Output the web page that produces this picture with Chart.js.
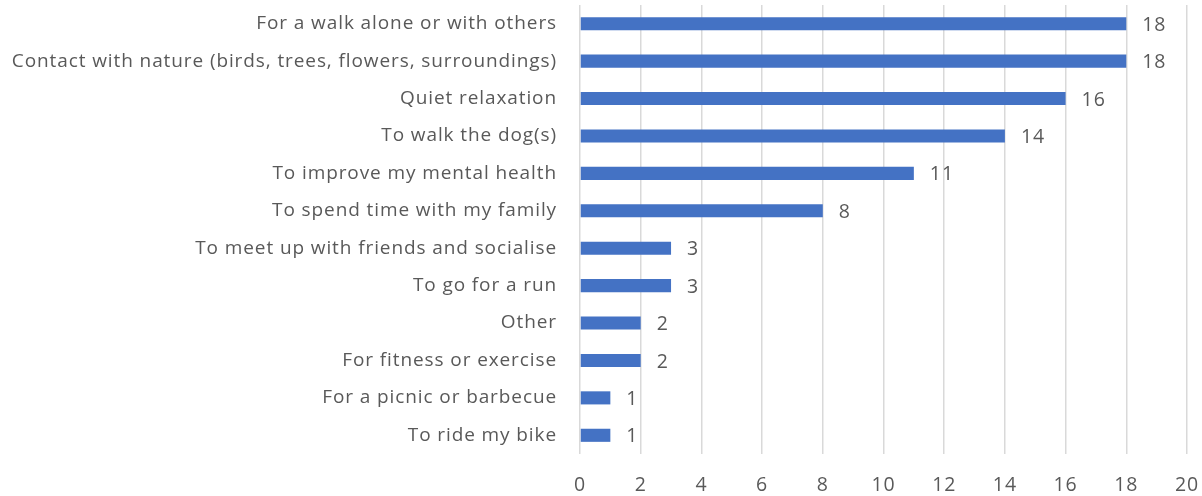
<!DOCTYPE html>
<html lang="en">
<head>
<meta charset="UTF-8">
<title>Reasons for visiting</title>
<script src="https://cdn.jsdelivr.net/npm/chart.js"></script>
<style>
  html, body { margin: 0; padding: 0; background: #fff; overflow: hidden; }
  #wrap { width: 1202px; height: 496px; }
</style>
</head>
<body>
<div id="wrap"><canvas id="grafico"></canvas></div>
<script>
// categories, top to bottom
const categorias = [
    'For a walk alone or with others',
    'Contact with nature (birds, trees, flowers, surroundings)',
    'Quiet relaxation',
    'To walk the dog(s)',
    'To improve my mental health',
    'To spend time with my family',
    'To meet up with friends and socialise',
    'To go for a run',
    'Other',
    'For fitness or exercise',
    'For a picnic or barbecue',
    'To ride my bike'
];
const valores = [18, 18, 16, 14, 11, 8, 3, 3, 2, 2, 1, 1];
const eixoMin = 0;
const eixoMax = 20;
const passo = 2;

const fonte = '"Open Sans", Lato, sans-serif';
const corTexto = '#595959';

// a bit of letter spacing so the text spreads like the original
const espacamento = {
    id: 'espacamento',
    beforeDraw(chart) { chart.ctx.letterSpacing = '0.9px'; },
    afterDraw(chart) { chart.ctx.letterSpacing = '0px'; }
};

// writes the value at the end of every bar
const rotulos = {
    id: 'rotulos',
    afterDatasetsDraw(chart) {
        const ctx = chart.ctx;
        const meta = chart.getDatasetMeta(0);
        ctx.save();
        ctx.font = '19.5px ' + fonte;
        ctx.fillStyle = corTexto;
        ctx.textAlign = 'left';
        ctx.textBaseline = 'middle';
        meta.data.forEach(function (barra, i) {
            ctx.fillText(String(valores[i]), barra.x + 16, barra.y + 1.5);
        });
        ctx.restore();
    }
};

new Chart(document.getElementById('grafico'), {
    type: 'bar',
    data: {
        labels: categorias,
        datasets: [{
            data: valores,
            backgroundColor: '#4472C4',
            barPercentage: 0.7,
            categoryPercentage: 0.5
        }]
    },
    options: {
        indexAxis: 'y',
        responsive: true,
        maintainAspectRatio: false,
        animation: false,
        layout: { padding: { top: 5, right: 15, left: 0, bottom: 0 } },
        plugins: { legend: { display: false }, tooltip: { enabled: false } },
        scales: {
            x: {
                min: eixoMin,
                max: eixoMax,
                ticks: {
                    stepSize: passo,
                    color: corTexto,
                    font: { family: fonte, size: 19.5 },
                    padding: 20
                },
                grid: { color: '#d9d9d9', lineWidth: 1.5, drawTicks: false },
                border: { display: false },
                afterFit(scale) {
                    scale.height = 42;
                    scale.paddingLeft = 0;
                    scale.paddingRight = 0;
                }
            },
            y: {
                ticks: {
                    color: corTexto,
                    font: { family: fonte, size: 19 },
                    padding: 23
                },
                grid: { display: false, drawTicks: false },
                border: { display: false },
                afterFit(scale) {
                    scale.width = 580;
                    scale.paddingTop = 0;
                    scale.paddingBottom = 0;
                }
            }
        }
    },
    plugins: [espacamento, rotulos]
});
</script>
</body>
</html>
